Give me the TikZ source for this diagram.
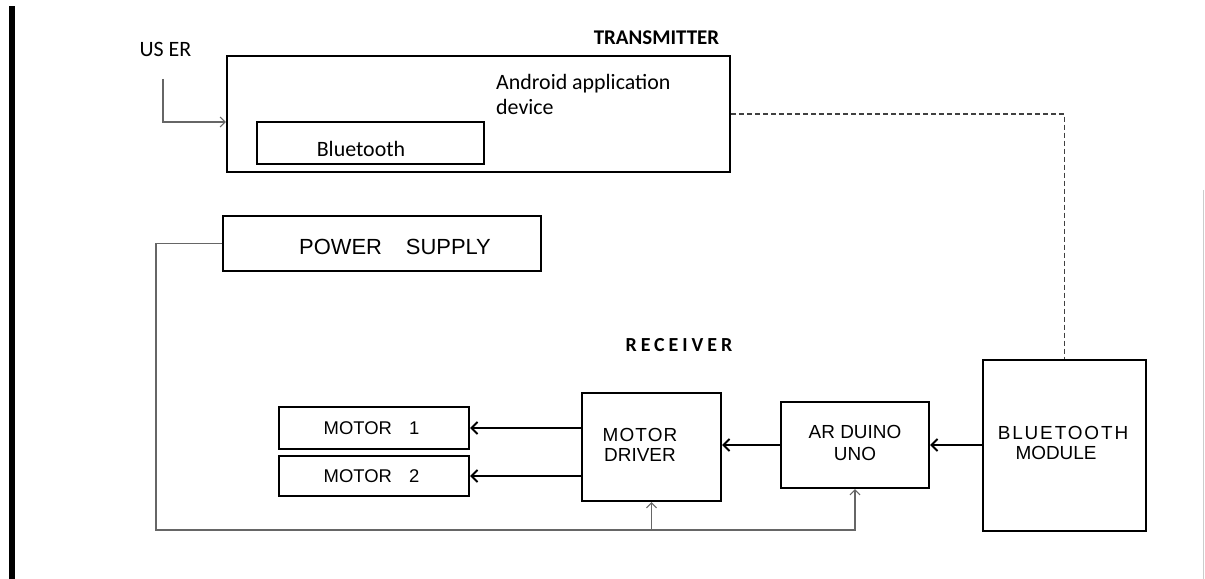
\documentclass[tikz,border=0pt]{standalone}
\usepackage{fontspec}
\setmainfont{Carlito}
\newfontfamily\arialf{Liberation Sans}
\usetikzlibrary{arrows.meta}
\begin{document}
\begin{tikzpicture}[x=1bp,y=-1bp,
  box/.style={draw=black, line width=2.2bp, inner sep=0pt, anchor=center},
  txt/.style={inner sep=0pt, anchor=center, align=center},
  cal/.style={font=\fontsize{22}{25}\selectfont},
  calb/.style={font=\fontsize{20}{24}\selectfont\bfseries},
  ari/.style={font=\arialf\fontsize{19}{20}\selectfont},
  thickarrow/.style={draw=black, line width=2.6bp, -{Straight Barb[length=6bp,width=12bp,line width=2bp]}},
  pline/.style={draw=black!60, line width=1.2bp},
  parrow/.style={pline, -{Straight Barb[length=5bp,width=10bp,line width=1.1bp]}},
  dashline/.style={draw=black!75, line width=1.3bp, dash pattern=on 5bp off 3bp}]
\useasboundingbox (0,0) rectangle (1205,579);
\fill[white] (0,0) rectangle (1205,579);
% page edges
\fill[black] (9,6) rectangle (15,579);
\draw[black!20, line width=1bp] (1203.5,190) -- (1203.5,579);

% transmitter
\node[txt, font=\fontsize{21}{24}\selectfont\bfseries] (ttx) at (656.5,38) {TRANSMITTER};
\node[box, minimum width=503bp, minimum height=116bp] (tx) at (478.5,114) {};
\node[box, minimum width=227bp, minimum height=42bp] (btin) at (370.5,143) {};
\node[txt, cal] (btintxt) at (361,149) {Bluetooth};
\node[inner sep=0pt, anchor=north west, align=left, cal] (andr) at (496,74) {Android application\\device};

% user
\node[txt, cal] (user) at (165.5,49) {US ER};
\coordinate (u0) at (163,79);
\coordinate (u1) at (163,122);
\draw[parrow] (u0) -- (u1) -- (u1 -| tx.west);

% power supply
\node[box, minimum width=318bp, minimum height=55bp] (ps) at (382,243.5) {};
\node[txt, font=\arialf\fontsize{22}{24}\selectfont] (pstxt) at (395,247) {POWER\hspace{24bp}SUPPLY};

% receiver
\node[txt, calb] (rtx) at (679,345) {\addfontfeature{LetterSpace=20}RECEIVER};

\node[box, minimum width=190bp, minimum height=42bp] (m1) at (374,428) {};
\node[txt, font=\arialf\fontsize{18.5}{20}\selectfont] (m1t) at (371.5,428) {MOTOR\hspace{17bp}1};
\node[box, minimum width=190bp, minimum height=40bp] (m2) at (374,476) {};
\node[txt, font=\arialf\fontsize{18.5}{20}\selectfont] (m2t) at (371.5,476) {MOTOR\hspace{17bp}2};

\node[box, minimum width=139bp, minimum height=108bp] (drv) at (651.5,447) {};
\node[txt, ari] (drvt) at (640,445) {\addfontfeature{LetterSpace=6}MOTOR\\DRIVER};

\node[box, minimum width=148bp, minimum height=86bp] (ard) at (855,445) {};
\node[txt, ari, font=\arialf\fontsize{19}{23}\selectfont] (ardt) at (855,443) {AR DUINO\\UNO};

\node[box, minimum width=163bp, minimum height=171bp] (bt) at (1064.5,445.5) {};
\node[txt, ari] (btt) at (1063,443) {{\addfontfeature{LetterSpace=10}BLUETOOTH}\\\hspace*{-14bp}MODULE};

% connectors
\draw[dashline] (tx.east) -| (bt.north);
\draw[thickarrow] (ard.east -| bt.west) -- (ard.east);
\draw[thickarrow] (ard.west) -- (ard.west -| drv.east);
\draw[thickarrow] (drv.west |- m1.east) -- (m1.east);
\draw[thickarrow] (drv.west |- m2.east) -- (m2.east);

\coordinate (c2) at (156,530);
\draw[parrow] (ps.west) -- (ps.west -| c2) -- (c2) -- (c2 -| ard.south) -- (ard.south);
\draw[parrow] (c2 -| drv.south) -- (drv.south);
\end{tikzpicture}
\end{document}
